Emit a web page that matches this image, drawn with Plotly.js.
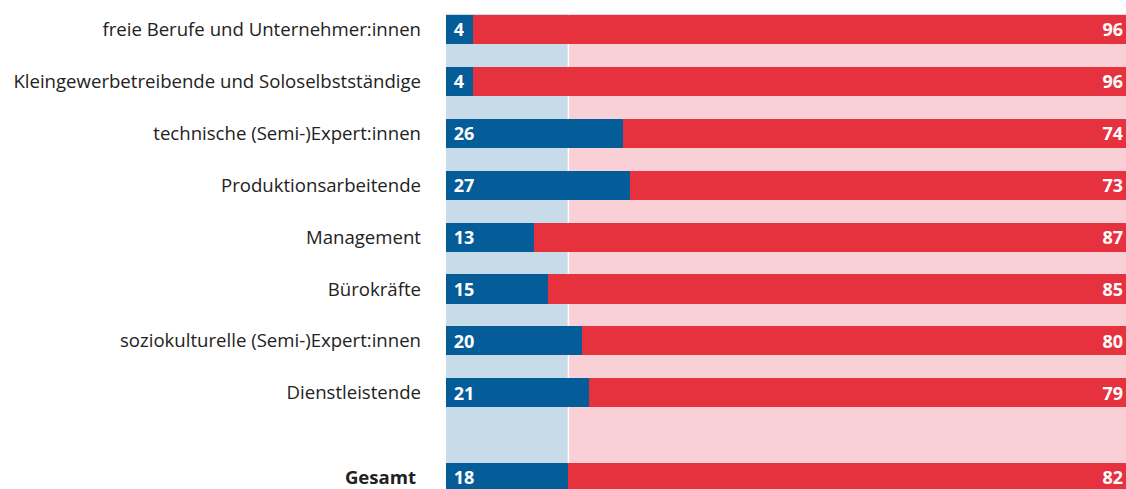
<!DOCTYPE html>
<html>
<head>
<meta charset="utf-8">
<script src="https://cdn.plot.ly/plotly-3.0.1.min.js"></script>
<style>html,body{margin:0;padding:0;background:#fff}#chart{width:1126px;height:489px}</style>
</head>
<body>
<div id="chart"></div>
<script>
const categories = [
  "freie Berufe und Unternehmer:innen",
  "Kleingewerbetreibende und Soloselbstständige",
  "technische (Semi-)Expert:innen",
  "Produktionsarbeitende",
  "Management",
  "Bürokräfte",
  "soziokulturelle (Semi-)Expert:innen",
  "Dienstleistende",
  "Gesamt"
];
const blueValues = [4, 4, 26, 27, 13, 15, 20, 21, 18];
const redValues  = [96, 96, 74, 73, 87, 85, 80, 79, 82];

const BLUE = "#045c98", RED = "#e6323e", LBLUE = "#c8dbe8", PINK = "#f8d0d5";
const n = categories.length;
const gap = 1.63;                       // extra spacing before the total row
const ypos = categories.map((c, i) => i < n - 1 ? i : (n - 2) + gap);
const ticktext = categories.map((c, i) => i < n - 1 ? c : "<b>" + c + "</b>&nbsp;");
const barW = 0.56;
const totalBlue = blueValues[n - 1];

const common = {
  type: "bar", orientation: "h", y: ypos, width: barW,
  textposition: "inside", cliponaxis: false, textangle: 0, constraintext: "none",
  textfont: {family: "Open Sans", size: 18, color: "#ffffff", weight: 700},
  hoverinfo: "skip"
};
const traces = [
  Object.assign({}, common, {x: blueValues, text: blueValues.map(v => "&nbsp;" + v), marker: {color: BLUE}, insidetextanchor: "start"}),
  Object.assign({}, common, {x: redValues, text: redValues.map(String), marker: {color: RED}, insidetextanchor: "end"})
];

const bgTop = -barW / 2 - 0.02;
const layout = {
  width: 1126, height: 489,
  margin: {l: 446, r: 0, t: 0, b: 0},
  barmode: "stack",
  showlegend: false,
  paper_bgcolor: "#ffffff", plot_bgcolor: "rgba(0,0,0,0)",
  font: {family: "Open Sans", color: "#222222"},
  xaxis: {range: [0, 100], showgrid: false, zeroline: false, showticklabels: false, fixedrange: true},
  yaxis: {
    range: [8.853, -0.568], tickmode: "array", tickvals: ypos, ticktext: ticktext,
    showgrid: false, zeroline: false, ticks: "", ticklabelstandoff: 24,
    tickfont: {family: "Open Sans", size: 18.6, color: "#222222"}
  },
  shapes: [
    {type: "rect", layer: "below", xref: "x", yref: "y", x0: 0, x1: totalBlue, y0: bgTop, y1: 9.5, fillcolor: LBLUE, line: {width: 0}},
    {type: "rect", layer: "below", xref: "x", yref: "y", x0: totalBlue, x1: 100, y0: bgTop, y1: 9.5, fillcolor: PINK, line: {width: 0}},
    {type: "line", layer: "below", xref: "x", yref: "y", x0: totalBlue, x1: totalBlue, y0: bgTop, y1: 9.5, line: {color: "#ffffff", width: 1.5}}
  ]
};
Plotly.newPlot("chart", traces, layout, {displayModeBar: false, staticPlot: true});
</script>
</body>
</html>
